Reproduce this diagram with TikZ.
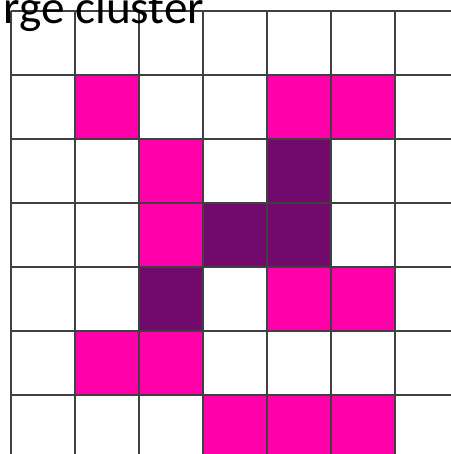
\documentclass[tikz,border=0pt]{standalone}
\usepackage{fontspec}
\setmainfont{Carlito}
\usepackage{xcolor}
\usetikzlibrary{positioning}
\definecolor{hotpink}{RGB}{255,0,170}
\definecolor{plum}{RGB}{114,10,110}
\definecolor{gridgrey}{RGB}{64,64,64}

\begin{document}
\begin{tikzpicture}[
  gline/.style={draw=gridgrey, line width=0.8pt},
  pcell/.style={draw=black!80, line width=0.8pt, fill=hotpink},
  dcell/.style={draw=black!80, line width=0.8pt, fill=plum},
  ttl/.style={font=\fontsize{21}{25}\selectfont, inner sep=0pt, anchor=base west}
]
\useasboundingbox (-0.172,0.172) rectangle (6.875,-6.922);

% pink cells
\foreach \c/\r in {1/1, 4/1, 5/1, 2/2, 2/3, 4/4, 5/4, 1/5, 2/5, 3/6, 4/6, 5/6}
  \path[pcell] (\c,-\r) rectangle ++(1,-1);

% dark cells
\foreach \c/\r in {4/2, 3/3, 4/3, 2/4}
  \path[dcell] (\c,-\r) rectangle ++(1,-1);

% grid
\foreach \k in {0,...,6} {
  \draw[gline] (\k,0) -- (\k,-6.922);
  \draw[gline] (0,-\k) -- (6.875,-\k);
}

% title
\node[ttl] (title) at (-0.125,-0.19) {rge cluster};

\end{tikzpicture}
\end{document}
